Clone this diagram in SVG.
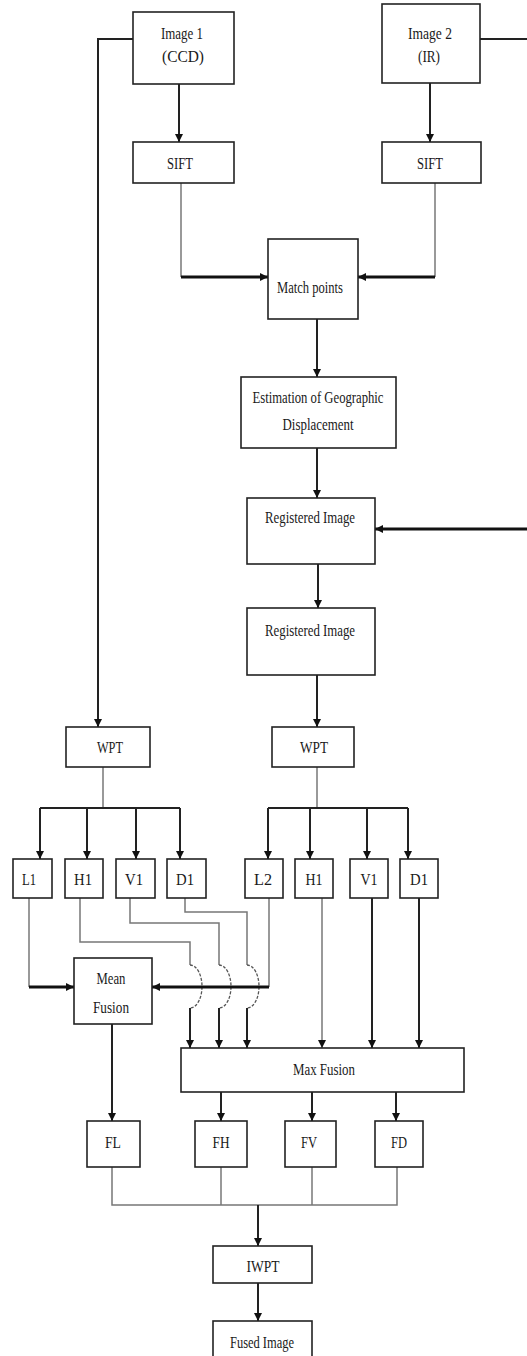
<svg xmlns="http://www.w3.org/2000/svg" width="527" height="1356" viewBox="0 0 527 1356">
<style>
.box{fill:#fff;stroke:#222;stroke-width:1.6}
.t{font-family:"Liberation Serif","Times New Roman",serif;font-size:17px;fill:#1a1a1a;text-anchor:middle}
.c{fill:none;stroke:#222;stroke-width:2}
.g{fill:none;stroke:#777;stroke-width:1.5}
.k{fill:none;stroke:#111;stroke-width:3}
.h{fill:none;stroke:#555;stroke-width:1.3;stroke-dasharray:3 1.5}
</style>
<defs>
<marker id="a" markerUnits="userSpaceOnUse" markerWidth="9" markerHeight="9" refX="8" refY="4" orient="auto">
<path d="M0,0 L8,4 L0,8 z" fill="#111"/>
</marker>
</defs>
<rect width="527" height="1356" fill="#fff"/>
<g id="connectors">
<path class="c" d="M133,39 H98 V727" marker-end="url(#a)"/>
<path class="c" d="M179,84 V142" stroke-width="2.5" marker-end="url(#a)"/>
<path class="c" d="M430,83 V142" stroke-width="2.5" marker-end="url(#a)"/>
<path class="c" d="M480,39 H527" stroke-width="1.6"/>
<path class="g" d="M181,183 V277"/>
<path class="k" d="M181,277 H268" marker-end="url(#a)"/>
<path class="g" d="M435,183 V277"/>
<path class="k" d="M435,277 H358" marker-end="url(#a)"/>
<path class="c" d="M317,319 V377" marker-end="url(#a)"/>
<path class="c" d="M317,448 V498" marker-end="url(#a)"/>
<path class="k" d="M527,529 H375" marker-end="url(#a)"/>
<path class="c" d="M318,564 V608" stroke="#555" stroke-width="3" marker-end="url(#a)"/>
<path class="c" d="M317,675 V727" marker-end="url(#a)"/>
<path class="g" d="M103,767 V808"/>
<path class="c" d="M40,808 H180"/>
<path class="c" d="M40,808 V859" marker-end="url(#a)"/>
<path class="c" d="M87,808 V859" marker-end="url(#a)"/>
<path class="c" d="M136,808 V859" marker-end="url(#a)"/>
<path class="c" d="M180,808 V859" marker-end="url(#a)"/>
<path class="g" d="M317,767 V808"/>
<path class="c" d="M268,808 H408"/>
<path class="c" d="M268,808 V859" marker-end="url(#a)"/>
<path class="c" d="M310,808 V859" marker-end="url(#a)"/>
<path class="c" d="M367,808 V859" marker-end="url(#a)"/>
<path class="c" d="M408,808 V859" marker-end="url(#a)"/>
<path class="g" d="M29,898 V987"/>
<path class="k" d="M29,987 H74" marker-end="url(#a)"/>
<path class="g" d="M80,898 V942 H190 V965"/>
<path class="h" d="M190,965 A12,21.5 0 0 1 190,1008"/>
<path class="c" d="M190,1008 V1048" marker-end="url(#a)"/>
<path class="g" d="M130,898 V923 H219 V965"/>
<path class="h" d="M219,965 A12,21.5 0 0 1 219,1008"/>
<path class="c" d="M219,1008 V1048" marker-end="url(#a)"/>
<path class="g" d="M185,898 V912 H247 V965"/>
<path class="h" d="M247,965 A12,21.5 0 0 1 247,1008"/>
<path class="c" d="M247,1008 V1048" marker-end="url(#a)"/>
<path class="g" d="M269,898 V987"/>
<path class="k" d="M269,987 H152" marker-end="url(#a)"/>
<path class="g" d="M322,898 V1048" marker-end="url(#a)"/>
<path class="c" d="M372,898 V1048" stroke-width="2.6" marker-end="url(#a)"/>
<path class="c" d="M419,898 V1048" stroke-width="2.6" marker-end="url(#a)"/>
<path class="c" d="M112,1024 V1121" marker-end="url(#a)"/>
<path class="c" d="M221,1092 V1121" marker-end="url(#a)"/>
<path class="c" d="M312,1092 V1121" marker-end="url(#a)"/>
<path class="c" d="M396,1092 V1121" marker-end="url(#a)"/>
<path class="g" d="M112,1167 V1205 H397 V1167"/>
<path class="g" d="M221,1167 V1205"/>
<path class="g" d="M312,1167 V1205"/>
<path class="c" d="M258,1205 V1246" marker-end="url(#a)"/>
<path class="c" d="M258,1283 V1321" marker-end="url(#a)"/>
</g>
<g id="image1"><rect class="box" x="133" y="12" width="101" height="72"/><text class="t" x="182" y="39" textLength="42" lengthAdjust="spacingAndGlyphs">Image 1</text><text class="t" x="183" y="62" textLength="42" lengthAdjust="spacingAndGlyphs">(CCD)</text></g>
<g id="image2"><rect class="box" x="382" y="4" width="98" height="79"/><text class="t" x="430" y="39" textLength="44" lengthAdjust="spacingAndGlyphs">Image 2</text><text class="t" x="429" y="62" textLength="22" lengthAdjust="spacingAndGlyphs">(IR)</text></g>
<g id="sift1"><rect class="box" x="133" y="142" width="101" height="41"/><text class="t" x="180" y="169" textLength="26" lengthAdjust="spacingAndGlyphs">SIFT</text></g>
<g id="sift2"><rect class="box" x="382" y="142" width="99" height="41"/><text class="t" x="430" y="169" textLength="26" lengthAdjust="spacingAndGlyphs">SIFT</text></g>
<g id="match"><rect class="box" x="268" y="239" width="90" height="80"/><text class="t" x="310" y="293" textLength="66" lengthAdjust="spacingAndGlyphs">Match points</text></g>
<g id="estimation"><rect class="box" x="241" y="377" width="155" height="71"/><text class="t" x="318" y="403" textLength="131" lengthAdjust="spacingAndGlyphs">Estimation of Geographic</text><text class="t" x="318" y="430" textLength="71" lengthAdjust="spacingAndGlyphs">Displacement</text></g>
<g id="reg1"><rect class="box" x="247" y="498" width="128" height="66"/><text class="t" x="310" y="523" textLength="90" lengthAdjust="spacingAndGlyphs">Registered Image</text></g>
<g id="reg2"><rect class="box" x="247" y="608" width="128" height="67"/><text class="t" x="310" y="636" textLength="90" lengthAdjust="spacingAndGlyphs">Registered Image</text></g>
<g id="wpt1"><rect class="box" x="66" y="727" width="84" height="40"/><text class="t" x="110" y="753" textLength="26" lengthAdjust="spacingAndGlyphs">WPT</text></g>
<g id="wpt2"><rect class="box" x="272" y="727" width="82" height="40"/><text class="t" x="314" y="753" textLength="28" lengthAdjust="spacingAndGlyphs">WPT</text></g>
<g id="l1"><rect class="box" x="13" y="859" width="39" height="39"/><text class="t" x="29" y="885" textLength="14" lengthAdjust="spacingAndGlyphs">L1</text></g>
<g id="h1a"><rect class="box" x="65" y="859" width="38" height="39"/><text class="t" x="83" y="885" textLength="18" lengthAdjust="spacingAndGlyphs">H1</text></g>
<g id="v1a"><rect class="box" x="116" y="859" width="39" height="39"/><text class="t" x="134" y="885" textLength="18" lengthAdjust="spacingAndGlyphs">V1</text></g>
<g id="d1a"><rect class="box" x="167" y="859" width="39" height="39"/><text class="t" x="185" y="885" textLength="18" lengthAdjust="spacingAndGlyphs">D1</text></g>
<g id="l2"><rect class="box" x="245" y="859" width="38" height="39"/><text class="t" x="263" y="885" textLength="18" lengthAdjust="spacingAndGlyphs">L2</text></g>
<g id="h1b"><rect class="box" x="295" y="859" width="38" height="39"/><text class="t" x="314" y="885" textLength="17" lengthAdjust="spacingAndGlyphs">H1</text></g>
<g id="v1b"><rect class="box" x="350" y="859" width="38" height="39"/><text class="t" x="369" y="885" textLength="17" lengthAdjust="spacingAndGlyphs">V1</text></g>
<g id="d1b"><rect class="box" x="400" y="859" width="38" height="39"/><text class="t" x="419" y="885" textLength="18" lengthAdjust="spacingAndGlyphs">D1</text></g>
<g id="meanfusion"><rect class="box" x="74" y="958" width="78" height="66"/><text class="t" x="111" y="984" textLength="29" lengthAdjust="spacingAndGlyphs">Mean</text><text class="t" x="111" y="1013" textLength="36" lengthAdjust="spacingAndGlyphs">Fusion</text></g>
<g id="maxfusion"><rect class="box" x="181" y="1048" width="283" height="44"/><text class="t" x="324" y="1075" textLength="62" lengthAdjust="spacingAndGlyphs">Max Fusion</text></g>
<g id="fl"><rect class="box" x="87" y="1121" width="53" height="46"/><text class="t" x="113" y="1148" textLength="16" lengthAdjust="spacingAndGlyphs">FL</text></g>
<g id="fh"><rect class="box" x="195" y="1121" width="52" height="46"/><text class="t" x="221" y="1148" textLength="17" lengthAdjust="spacingAndGlyphs">FH</text></g>
<g id="fv"><rect class="box" x="285" y="1121" width="51" height="46"/><text class="t" x="309" y="1148" textLength="16" lengthAdjust="spacingAndGlyphs">FV</text></g>
<g id="fd"><rect class="box" x="375" y="1121" width="48" height="46"/><text class="t" x="399" y="1148" textLength="16" lengthAdjust="spacingAndGlyphs">FD</text></g>
<g id="iwpt"><rect class="box" x="213" y="1246" width="99" height="37"/><text class="t" x="263" y="1272" textLength="33" lengthAdjust="spacingAndGlyphs">IWPT</text></g>
<g id="fused"><rect class="box" x="213" y="1321" width="99" height="45"/><text class="t" x="262" y="1348" textLength="64" lengthAdjust="spacingAndGlyphs">Fused Image</text></g>
</svg>
